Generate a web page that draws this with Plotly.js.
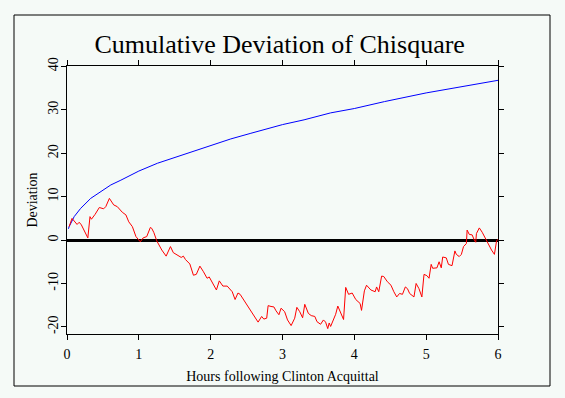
<!DOCTYPE html>
<html>
<head>
<meta charset="utf-8">
<script src="https://cdn.plot.ly/plotly-3.0.1.min.js"></script>
<style>
  html, body { margin: 0; padding: 0; background: #f5faf7; }
  #chart { width: 565px; height: 398px; }
</style>
</head>
<body>
<div id="chart"></div>
<script>
// Expected cumulative chisquare deviation (blue)
const blueHours = [0.02, 0.03, 0.10, 0.19, 0.33, 0.47, 0.61, 0.75, 1.00, 1.26, 1.49, 1.72, 2.00, 2.28, 2.56, 3.00, 3.30, 3.67, 4.00, 4.42, 5.00, 5.53, 6.00];
const blueDev   = [2.6, 3.1, 5.4, 7.3, 9.6, 11.2, 12.7, 13.8, 15.9, 17.7, 19.0, 20.3, 21.7, 23.3, 24.6, 26.6, 27.7, 29.3, 30.3, 31.9, 33.9, 35.4, 36.8];

// Observed cumulative deviation of chisquare (red)
const redHours = [0.03, 0.07, 0.14, 0.17, 0.20, 0.29, 0.32, 0.34, 0.39, 0.45, 0.51, 0.54, 0.59, 0.62, 0.65, 0.70, 0.77, 0.82, 0.86, 0.91,
  0.96, 1.02, 1.06, 1.11, 1.16, 1.18, 1.21, 1.25, 1.32, 1.38, 1.44, 1.48, 1.54, 1.59, 1.62, 1.65, 1.71, 1.76, 1.80, 1.85,
  1.90, 1.95, 1.98, 2.03, 2.08, 2.12, 2.17, 2.23, 2.30, 2.34, 2.38, 2.41, 2.49, 2.55, 2.59, 2.66, 2.71, 2.74, 2.78, 2.80,
  2.84, 2.88, 2.91, 2.95, 2.98, 3.03, 3.07, 3.12, 3.17, 3.20, 3.24, 3.28, 3.31, 3.36, 3.40, 3.45, 3.48, 3.53, 3.57, 3.60,
  3.63, 3.65, 3.67, 3.71, 3.74, 3.77, 3.81, 3.85, 3.88, 3.92, 3.97, 4.02, 4.08, 4.10, 4.14, 4.17, 4.23, 4.29, 4.31, 4.34,
  4.38, 4.41, 4.46, 4.51, 4.55, 4.59, 4.63, 4.67, 4.71, 4.74, 4.77, 4.80, 4.83, 4.86, 4.90, 4.94, 4.97, 5.01, 5.04, 5.07,
  5.09, 5.15, 5.18, 5.21, 5.23, 5.28, 5.31, 5.36, 5.40, 5.42, 5.46, 5.49, 5.52, 5.56, 5.57, 5.60, 5.64, 5.67, 5.69, 5.70,
  5.74, 5.78, 5.83, 5.86, 5.91, 5.95, 5.98, 6.00];
const redDev = [3.1, 5.0, 3.6, 4.1, 3.5, 0.5, 5.4, 4.8, 5.9, 7.5, 7.2, 7.7, 9.6, 8.8, 8.1, 7.7, 6.4, 5.8, 4.2, 3.1,
  0.8, -0.4, 0.5, 0.8, 2.9, 2.7, 1.7, -0.2, -2.3, -3.7, -1.5, -2.9, -3.5, -4.0, -3.7, -4.5, -5.5, -8.1, -7.9, -6.0,
  -7.3, -8.8, -8.5, -10.0, -11.5, -9.4, -10.6, -10.6, -11.9, -13.7, -12.2, -12.5, -14.5, -16.1, -17.2, -18.9, -17.6, -18.2, -18.0, -15.1,
  -15.3, -15.4, -16.3, -17.2, -15.7, -16.5, -18.4, -19.7, -18.0, -15.5, -16.5, -17.9, -14.8, -16.9, -17.4, -17.6, -18.8, -19.4, -18.4, -18.9,
  -20.4, -19.1, -19.9, -18.1, -17.1, -15.2, -16.8, -18.3, -10.9, -12.5, -12.2, -13.7, -14.6, -16.2, -11.7, -10.4, -11.5, -11.9, -10.8, -11.9,
  -8.3, -8.4, -9.6, -10.4, -11.9, -13.1, -12.3, -12.5, -10.8, -11.2, -12.3, -12.7, -13.1, -10.0, -11.2, -13.1, -7.9, -8.2, -8.8, -5.6,
  -6.5, -6.4, -5.0, -6.4, -3.9, -4.1, -5.6, -5.9, -2.5, -3.3, -3.8, -3.3, -1.5, -0.8, 2.3, 1.3, 1.2, 0.0, -0.5, 1.5,
  2.8, 1.8, 0.2, -1.0, -2.3, -3.3, -0.2, 0.2];

const xTicks = [0, 1, 2, 3, 4, 5, 6];
const yTicks = [-20, -10, 0, 10, 20, 30, 40];

const serif = '"Liberation Serif", "Times New Roman", "DejaVu Serif", serif';
const bg = '#f5faf7';

const traces = [
  { x: blueHours, y: blueDev, type: 'scatter', mode: 'lines',
    line: { color: '#0000ff', width: 1 }, hoverinfo: 'skip', showlegend: false },
  { x: redHours, y: redDev, type: 'scatter', mode: 'lines',
    line: { color: '#ff0000', width: 1 }, hoverinfo: 'skip', showlegend: false }
];

const axisCommon = {
  showgrid: false, showline: true, linecolor: '#000', linewidth: 1,
  mirror: 'ticks', ticks: 'outside', ticklen: 5, tickwidth: 1, tickcolor: '#000',
  tickfont: { family: serif, size: 14, color: '#000' }
};

const layout = {
  width: 565, height: 398,
  paper_bgcolor: bg, plot_bgcolor: bg,
  margin: { l: 67, r: 67, t: 66, b: 64 },
  showlegend: false,
  title: { text: 'Cumulative Deviation of Chisquare', font: { family: serif, size: 26, color: '#000' },
           x: 0.495, xanchor: 'center', y: 0.89, yanchor: 'middle' },
  xaxis: Object.assign({}, axisCommon, {
    range: [0, 6], tickvals: xTicks, ticktext: xTicks.map(String), zeroline: false,
    ticklabelstandoff: 2,
    title: { text: 'Hours following Clinton Acquittal', font: { family: serif, size: 14, color: '#000' }, standoff: 10 }
  }),
  yaxis: Object.assign({}, axisCommon, {
    range: [-21.64, 40.1], tickvals: yTicks, ticktext: yTicks.map(String), tickangle: -90,
    ticklabelstandoff: -3,
    zeroline: true, zerolinecolor: '#000', zerolinewidth: 3, layer: 'above traces',
    title: { text: 'Deviation', font: { family: serif, size: 14, color: '#000' }, standoff: 5 }
  }),
  shapes: [
    { type: 'rect', xref: 'paper', yref: 'paper',
      x0: (14 - 67) / 431, x1: (550 - 67) / 431, y0: (334 - 386) / 268, y1: (334 - 15) / 268,
      line: { color: '#000', width: 1 }, fillcolor: 'rgba(0,0,0,0)', layer: 'below' }
  ]
};

Plotly.newPlot('chart', traces, layout, { staticPlot: true, displayModeBar: false });
</script>
</body>
</html>
